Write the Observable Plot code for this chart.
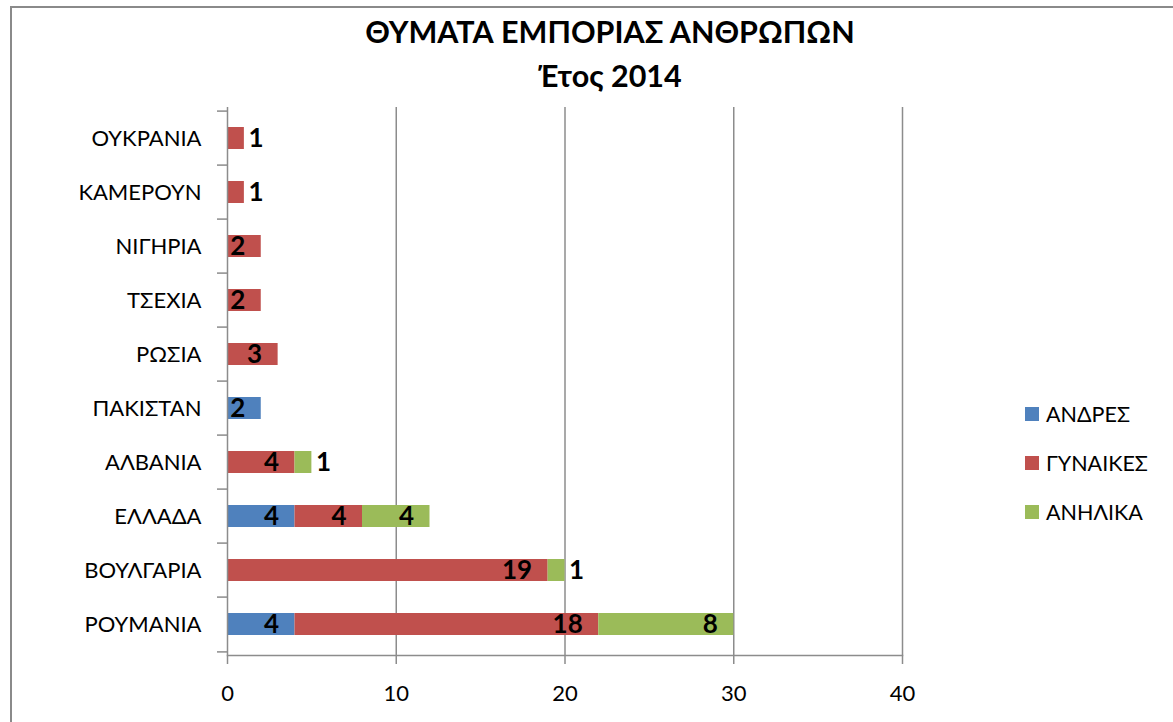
<!DOCTYPE html>
<html>
<head>
<meta charset="utf-8">
<script src="https://cdn.jsdelivr.net/npm/d3@7"></script>
<script src="https://cdn.jsdelivr.net/npm/@observablehq/plot@0.6"></script>
<style>
  html, body { margin: 0; padding: 0; background: #fff; overflow: hidden; }
  #wrap { position: relative; width: 1173px; height: 722px; overflow: hidden; font-family: Lato, "Open Sans", sans-serif; }
  #border { position: absolute; left: 10px; top: 6px; width: 1300px; height: 900px; border: 2px solid #8a8a8a; box-sizing: border-box; }
  #title { position: relative; margin-left: 10px; width: 1200px; height: 95px; overflow: visible; box-sizing: border-box; padding-top: 9px;
           text-align: center; font-weight: bold; font-size: 30.5px; line-height: 44px; color: #000; }
  #title div { height: 44px; }
  #chart { position: relative; }
  #chart svg { display: block; }
  #legend { position: absolute; left: 1025px; top: 402px; font-size: 21.5px; color: #000; }
  .item { display: flex; align-items: center; height: 24px; margin-bottom: 25px; }
  .sw { width: 14px; height: 14px; margin-right: 7px; }
</style>
</head>
<body>
<div id="wrap">
  <div id="border"></div>
  <div id="title"></div>
  <div id="chart"></div>
  <div id="legend"></div>
</div>
<script>
const titleLines = ["ΘΥΜΑΤΑ ΕΜΠΟΡΙΑΣ ΑΝΘΡΩΠΩΝ", "Έτος 2014"];
const countries = ["ΟΥΚΡΑΝΙΑ", "ΚΑΜΕΡΟΥΝ", "ΝΙΓΗΡΙΑ", "ΤΣΕΧΙΑ", "ΡΩΣΙΑ", "ΠΑΚΙΣΤΑΝ", "ΑΛΒΑΝΙΑ", "ΕΛΛΑΔΑ", "ΒΟΥΛΓΑΡΙΑ", "ΡΟΥΜΑΝΙΑ"];
const seriesNames = ["ΑΝΔΡΕΣ", "ΓΥΝΑΙΚΕΣ", "ΑΝΗΛΙΚΑ"];
const men    = [0, 0, 0, 0, 0, 2, 0, 4, 0, 4];
const women  = [1, 1, 2, 2, 3, 0, 4, 4, 19, 18];
const minors = [0, 0, 0, 0, 0, 0, 1, 4, 1, 8];
const xTicks = [0, 10, 20, 30, 40];
const colors = ["#4F81BD", "#C0504D", "#9BBB59"];

const seriesValues = [men, women, minors];
const rows = [];
countries.forEach((c, i) => {
  seriesNames.forEach((s, j) => {
    const v = seriesValues[j][i];
    if (v > 0) rows.push({country: c, series: s, value: v});
  });
});

document.getElementById("title").innerHTML = titleLines.map(t => `<div>${t}</div>`).join("");

const W = 1173, H = 627, mT = 12, mB = 67, mL = 227, mR = 271;
const step = (H - mT - mB) / countries.length;
const axisGray = "#8c8c8c";

const stackOpts = {y: "country", x: "value", z: "series", order: seriesNames};

const chart = Plot.plot({
  width: W, height: H,
  marginTop: mT, marginBottom: mB, marginLeft: mL, marginRight: mR,
  style: {fontFamily: "Lato, 'Open Sans', sans-serif", background: "transparent", overflow: "visible", color: "#000"},
  x: {domain: [0, 40]},
  y: {domain: countries, paddingInner: 0.6, paddingOuter: 0.3},
  color: {domain: seriesNames, range: colors},
  marks: [
    Plot.gridX(xTicks.slice(1), {stroke: axisGray, strokeOpacity: 1, strokeWidth: 1.5}),
    Plot.barX(rows, Plot.stackX({...stackOpts, fill: "series"})),
    Plot.ruleX([0], {stroke: axisGray, strokeWidth: 1.5}),
    Plot.frame({anchor: "bottom", stroke: axisGray, strokeWidth: 1.5}),
    Plot.axisX({ticks: xTicks, tickSize: 9, stroke: axisGray, strokeWidth: 1.5, tickPadding: 21, fontSize: 22, fill: "#000", label: null, tickFormat: d => String(d)}),
    Plot.axisY({tickSize: 0, tickPadding: 26, fontSize: 22, fill: "#000", label: null}),
    Plot.axisY({tickSize: 10, tickFormat: () => "", stroke: axisGray, strokeWidth: 1.5, dy: -step / 2, label: null}),
    Plot.axisY({ticks: [countries[countries.length - 1]], tickSize: 10, tickFormat: () => "", stroke: axisGray, strokeWidth: 1.5, dy: step / 2, label: null}),
    Plot.text(rows, Plot.stackX2({...stackOpts, text: d => d.value > 1 ? String(d.value) : "", textAnchor: "end", dx: -16, fontSize: 26, fontWeight: "bold", fill: "#000"})),
    Plot.text(rows, Plot.stackX2({...stackOpts, text: d => d.value === 1 ? String(d.value) : "", textAnchor: "start", dx: 4, fontSize: 26, fontWeight: "bold", fill: "#000"}))
  ]
});
document.getElementById("chart").appendChild(chart);

document.getElementById("legend").innerHTML = seriesNames.map((s, i) =>
  `<div class="item"><div class="sw" style="background:${colors[i]}"></div><span>${s}</span></div>`).join("");
</script>
</body>
</html>
